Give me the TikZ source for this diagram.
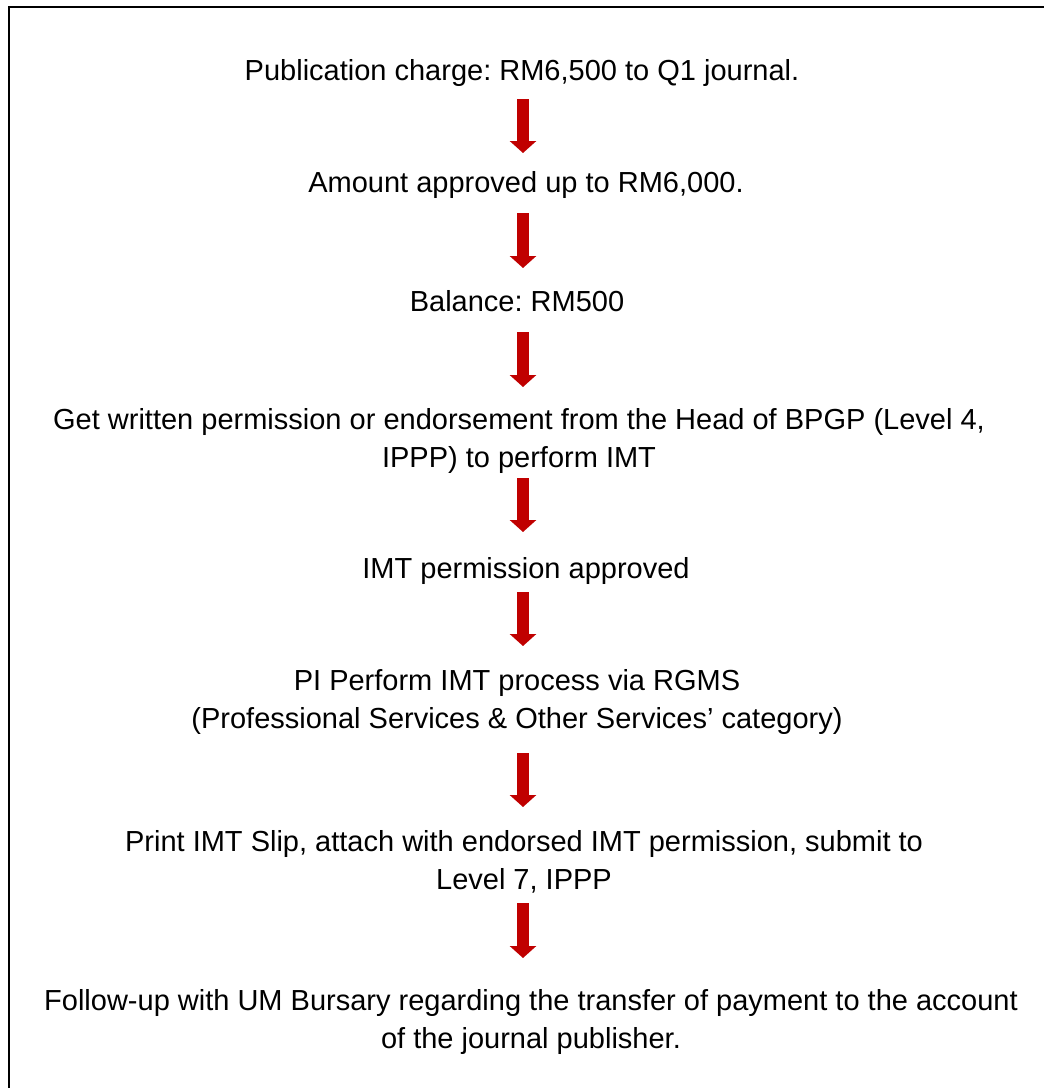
\documentclass[tikz,border=0pt]{standalone}
\usepackage{fontspec}
\setmainfont{Liberation Sans}
\usepackage{tikz}
\usetikzlibrary{arrows.meta}
\definecolor{arrowred}{RGB}{192,0,0}
\frenchspacing

\begin{document}
\begin{tikzpicture}[x=1pt,y=-1pt]
      \tikzstyle{stepbox} = [align=center, inner sep=0pt, font=\fontsize{29}{38.5}\selectfont]
      \tikzstyle{bigarrow} = [draw=arrowred, line width=12pt, -{Triangle[width=26pt,length=12pt]}]
      \useasboundingbox (0,0) rectangle (1044,1088);
      % frame, cut at the right and bottom
      \draw [line width=2pt] (9,1100)--(9,6.5)--(1060,6.5);
      \coordinate (axis) at (523,0);
      % steps
      \node (t1) [stepbox] at (522,73) {Publication charge: RM6,500 to Q1 journal.};
      \node (t2) [stepbox] at (526,185) {Amount approved up to RM6,000.};
      \node (t3) [stepbox] at (517,301) {Balance: RM500};
      \node (t4) [stepbox] at (519,441) {Get written permission or endorsement from the Head of BPGP (Level 4,\\IPPP) to perform IMT};
      \node (t5) [stepbox] at (526,571) {IMT permission approved};
      \node (t6) [stepbox] at (517,702) {PI Perform IMT process via RGMS\\(Professional Services \& Other Services’ category)};
      \node (t7) [stepbox] at (524,862) {Print IMT Slip, attach with endorsed IMT permission, submit to\\Level 7, IPPP};
      \node (t8) [stepbox] at (531,1022) {Follow-up with UM Bursary regarding the transfer of payment to the account\\of the journal publisher.};
      % arrows
      \draw [bigarrow, shorten <=26pt, shorten >=32pt] (t1 -| axis)--(t2 -| axis);
      \draw [bigarrow, shorten <=28pt, shorten >=33pt] (t2 -| axis)--(t3 -| axis);
      \draw [bigarrow, shorten <=31pt, shorten >=54pt] (t3 -| axis)--(t4 -| axis);
      \draw [bigarrow, shorten <=37pt, shorten >=39pt] (t4 -| axis)--(t5 -| axis);
      \draw [bigarrow, shorten <=21pt, shorten >=56pt] (t5 -| axis)--(t6 -| axis);
      \draw [bigarrow, shorten <=51pt, shorten >=55pt] (t6 -| axis)--(t7 -| axis);
      \draw [bigarrow, shorten <=41pt, shorten >=64pt] (t7 -| axis)--(t8 -| axis);
    \end{tikzpicture}
\end{document}
